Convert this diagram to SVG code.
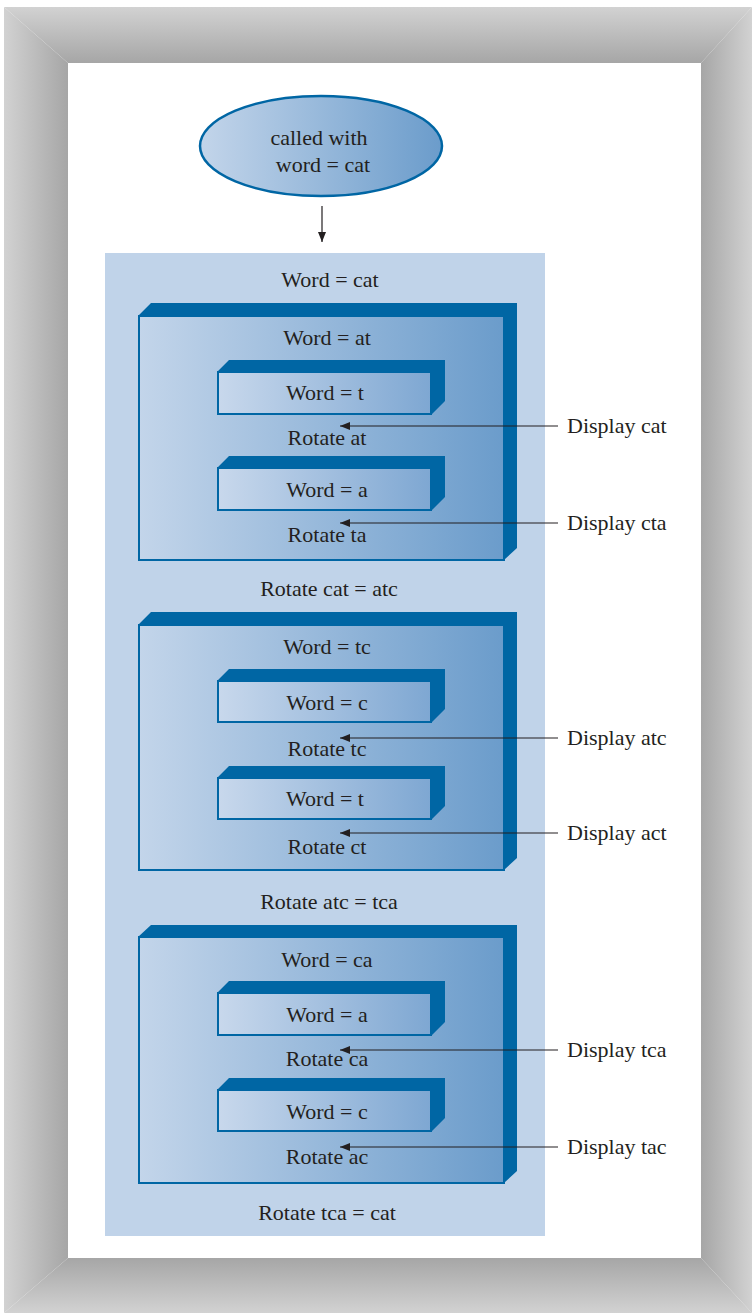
<svg xmlns="http://www.w3.org/2000/svg" width="752" height="1313" viewBox="0 0 752 1313">
<defs>
<linearGradient id="gTop" gradientUnits="userSpaceOnUse" x1="0" y1="7" x2="0" y2="63"><stop offset="0" stop-color="#d2d2d2"/><stop offset="1" stop-color="#a6a6a6"/></linearGradient>
<linearGradient id="gBot" gradientUnits="userSpaceOnUse" x1="0" y1="1313" x2="0" y2="1258"><stop offset="0" stop-color="#d2d2d2"/><stop offset="1" stop-color="#a6a6a6"/></linearGradient>
<linearGradient id="gLeft" gradientUnits="userSpaceOnUse" x1="4" y1="0" x2="68" y2="0"><stop offset="0" stop-color="#d2d2d2"/><stop offset="1" stop-color="#a6a6a6"/></linearGradient>
<linearGradient id="gRight" gradientUnits="userSpaceOnUse" x1="752" y1="0" x2="701" y2="0"><stop offset="0" stop-color="#d2d2d2"/><stop offset="1" stop-color="#a6a6a6"/></linearGradient>
<linearGradient id="gFace" x1="0" y1="0" x2="1" y2="0"><stop offset="0" stop-color="#c3d5ea"/><stop offset="1" stop-color="#6b9ccb"/></linearGradient>
<linearGradient id="gSmall" x1="0" y1="0" x2="1" y2="0"><stop offset="0" stop-color="#c8d8ec"/><stop offset="1" stop-color="#7ea7d2"/></linearGradient>
<marker id="ah" viewBox="0 0 10 10" refX="10" refY="5" markerWidth="10" markerHeight="10" markerUnits="userSpaceOnUse" orient="auto"><path d="M0,1 L10,5 L0,9 Z" fill="#231f20"/></marker>
</defs>
<style>
text{font-family:"Liberation Serif","Times New Roman",serif;font-size:22px;fill:#231f20}
.c{text-anchor:middle}
.ext{fill:#0066a4}
.face{fill:url(#gFace);stroke:#0066a4;stroke-width:2}
.sface{fill:url(#gSmall);stroke:#0066a4;stroke-width:2}
.ln{stroke:#231f20;stroke-width:1.2;fill:none}
</style>
<g id="frame">
<rect x="0" y="0" width="752" height="1313" fill="#ffffff"/>
<polygon points="4,7 752,7 701,63 68,63" fill="url(#gTop)"/>
<polygon points="4,1313 752,1313 701,1258 68,1258" fill="url(#gBot)"/>
<polygon points="4,7 68,63 68,1258 4,1313" fill="url(#gLeft)"/>
<polygon points="752,7 701,63 701,1258 752,1313" fill="url(#gRight)"/>
<rect x="68" y="63" width="633" height="1195" fill="#ffffff"/>
</g>
<g id="start">
<ellipse cx="321" cy="146" rx="121" ry="50" fill="url(#gFace)" stroke="#0066a4" stroke-width="2.5"/>
<text class="c" x="319" y="145">called with</text>
<text class="c" x="323" y="172">word = cat</text>
</g>
<g id="outer">
<rect x="105" y="253" width="440" height="983" fill="#c0d3e9"/>
<text class="c" x="330" y="287">Word = cat</text>
<text class="c" x="329" y="596">Rotate cat = atc</text>
<text class="c" x="329" y="909">Rotate atc = tca</text>
<text class="c" x="327" y="1220">Rotate tca = cat</text>
</g>
<g id="boxA">
<polygon class="ext" points="138,316 151,303 517,303 517,548 504,560 504,316"/>
<rect class="face" x="139" y="316" width="365" height="244"/>
<text class="c" x="327" y="345">Word = at</text>
<text class="c" x="327" y="445">Rotate at</text>
<text class="c" x="327" y="542">Rotate ta</text>
</g>
<g id="boxA1">
<polygon class="ext" points="217,372 229,360 445,360 445,401 432,414 432,372"/>
<rect class="sface" x="218" y="372" width="213" height="42"/>
<text class="c" x="325" y="400">Word = t</text>
</g>
<g id="boxA2">
<polygon class="ext" points="217,468 229,456 445,456 445,497 432,510 432,468"/>
<rect class="sface" x="218" y="468" width="213" height="42"/>
<text class="c" x="327" y="497">Word = a</text>
</g>
<g id="boxB">
<polygon class="ext" points="138,625 151,612 517,612 517,858 504,870 504,625"/>
<rect class="face" x="139" y="625" width="365" height="245"/>
<text class="c" x="327" y="654">Word = tc</text>
<text class="c" x="327" y="756">Rotate tc</text>
<text class="c" x="327" y="854">Rotate ct</text>
</g>
<g id="boxB1">
<polygon class="ext" points="217,681 229,669 445,669 445,709 432,722 432,681"/>
<rect class="sface" x="218" y="681" width="213" height="41"/>
<text class="c" x="327" y="710">Word = c</text>
</g>
<g id="boxB2">
<polygon class="ext" points="217,778 229,766 445,766 445,806 432,819 432,778"/>
<rect class="sface" x="218" y="778" width="213" height="41"/>
<text class="c" x="325" y="806">Word = t</text>
</g>
<g id="boxC">
<polygon class="ext" points="138,937 151,925 517,925 517,1171 504,1183 504,937"/>
<rect class="face" x="139" y="937" width="365" height="246"/>
<text class="c" x="327" y="967">Word = ca</text>
<text class="c" x="327" y="1066">Rotate ca</text>
<text class="c" x="327" y="1164">Rotate ac</text>
</g>
<g id="boxC1">
<polygon class="ext" points="217,993 229,981 445,981 445,1022 432,1035 432,993"/>
<rect class="sface" x="218" y="993" width="213" height="42"/>
<text class="c" x="327" y="1022">Word = a</text>
</g>
<g id="boxC2">
<polygon class="ext" points="217,1090 229,1078 445,1078 445,1118 432,1131 432,1090"/>
<rect class="sface" x="218" y="1090" width="213" height="41"/>
<text class="c" x="327" y="1119">Word = c</text>
</g>
<g id="labels">
<text x="567" y="433">Display cat</text>
<text x="567" y="530">Display cta</text>
<text x="567" y="745">Display atc</text>
<text x="567" y="840">Display act</text>
<text x="567" y="1057">Display tca</text>
<text x="567" y="1154">Display tac</text>
</g>
<g id="connectors">
<line class="ln" x1="322" y1="206" x2="322" y2="242" marker-end="url(#ah)"/>
<line class="ln" x1="558" y1="426" x2="340" y2="426" marker-end="url(#ah)"/>
<line class="ln" x1="558" y1="523" x2="340" y2="523" marker-end="url(#ah)"/>
<line class="ln" x1="558" y1="738" x2="340" y2="738" marker-end="url(#ah)"/>
<line class="ln" x1="558" y1="833" x2="340" y2="833" marker-end="url(#ah)"/>
<line class="ln" x1="558" y1="1050" x2="340" y2="1050" marker-end="url(#ah)"/>
<line class="ln" x1="558" y1="1147" x2="340" y2="1147" marker-end="url(#ah)"/>
</g>
</svg>
